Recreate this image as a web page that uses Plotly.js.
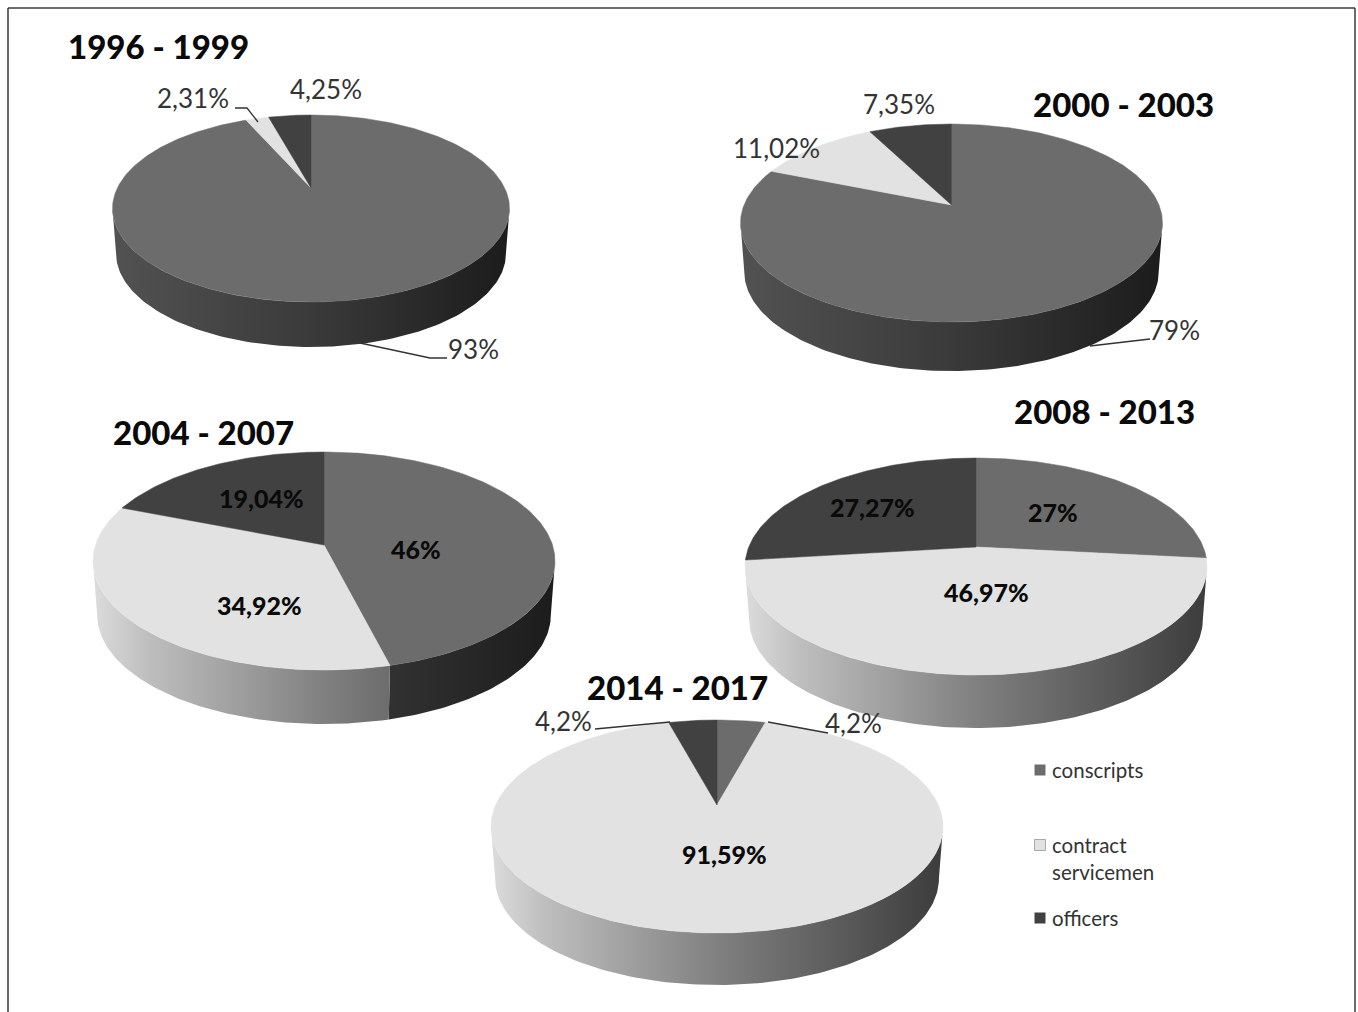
<!DOCTYPE html>
<html>
<head>
<meta charset="utf-8">
<script src="https://cdn.plot.ly/plotly-3.0.1.min.js"></script>
<style>html,body{margin:0;padding:0;background:#fff}#chart{width:1358px;height:1012px}</style>
</head>
<body>
<div id="chart"></div>
<script>
// ---- data ----
const periods = ['1996 - 1999', '2000 - 2003', '2004 - 2007', '2008 - 2013', '2014 - 2017'];
const seriesNames = ['conscripts', 'contract servicemen', 'officers'];
const conscripts = [93, 79, 46, 27, 4.2];
const contractServicemen = [2.31, 11.02, 34.92, 46.97, 91.59];
const officers = [4.25, 7.35, 19.04, 27.27, 4.2];

// ---- styling ----
const topColors = ['#6c6c6c', '#e2e2e2', '#414141'];
const wallScales = [
  [[0, '#525252'], [0.5, '#3a3a3a'], [1, '#1c1c1c']],
  [[0, '#dcdcdc'], [0.12, '#bebebe'], [0.5, '#808080'], [1, '#3c3c3c']],
  [[0, '#303030'], [1, '#101010']]
];
const FONT = 'Lato, "Open Sans", sans-serif';

// ---- placement of each pie on the pixel-like hidden axes ----
const pieX = [311, 951.5, 324, 976, 717];
const pieHalfWidth = [198.5, 211, 231, 231, 226];
const pieApexY = [188, 205, 545, 547, 805];
const pieTopY = [115, 124, 452, 458, 720];
const pieBottomY = [302, 322, 670, 675, 933];
const pieWallBottomY = [347, 371, 724, 728, 985];
const titlePos = [[158, 45.5], [1123, 103.5], [203, 431.5], [1104, 410.5], [677, 686.5]];
const labelPos = [
  [[473, 349], [193, 98], [326, 89]],
  [[1174, 330], [776, 148], [899, 104]],
  [[416, 549], [259, 605], [261, 498]],
  [[1053, 512], [986, 592], [872, 507]],
  [[853, 723], [724, 854], [563, 721]]
];
const labelBold = [
  [false, false, false],
  [false, false, false],
  [true, true, true],
  [true, true, true],
  [false, true, false]
];
const leaders = [
  [[[360, 343], [430, 358], [447, 358]], [[235, 108], [247, 108], [258, 122]]],
  [[[1090, 346], [1150, 339]]],
  [],
  [],
  [[[595, 729], [670, 722]], [[768, 722], [828, 733]]]
];

const traces = [];
const annotations = [];

function makeProjector(i) {
  const up = pieApexY[i] - pieTopY[i];
  const down = pieBottomY[i] - pieApexY[i];
  const a = (down - up) / (down + up);
  const h = up * (1 + a);
  const rx = pieHalfWidth[i] * Math.sqrt(1 - a * a);
  return {
    a,
    point(theta) {
      const u = Math.sin(theta), v = Math.cos(theta), w = 1 + a * v;
      return [pieX[i] + rx * u / w, pieApexY[i] - h * v / w];
    }
  };
}

function addPie(i) {
  const vals = [conscripts[i], contractServicemen[i], officers[i]];
  const total = vals.reduce((s, d) => s + d, 0);
  const proj = makeProjector(i);
  const depth = pieWallBottomY[i] - pieBottomY[i];
  const thetaR = Math.acos(-proj.a);
  const thetaL = 2 * Math.PI - thetaR;
  const shrink = 0.982;
  let start = 0;
  const walls = [], tops = [];
  vals.forEach((val, s) => {
    const end = start + val / total * 2 * Math.PI;
    // visible side wall of this slice
    const a0 = Math.max(start, thetaR), a1 = Math.min(end, thetaL);
    if (a1 > a0) {
      const n = Math.max(4, Math.ceil((a1 - a0) * 50));
      const xs = [], ys = [];
      for (let k = 0; k <= n; k++) {
        const p = proj.point(a0 + (a1 - a0) * k / n);
        xs.push(p[0]); ys.push(p[1]);
      }
      for (let k = n; k >= 0; k--) {
        const p = proj.point(a0 + (a1 - a0) * k / n);
        xs.push(pieX[i] + (p[0] - pieX[i]) * shrink); ys.push(p[1] + depth);
      }
      xs.push(xs[0]); ys.push(ys[0]);
      walls.push({
        type: 'scatter', mode: 'lines', x: xs, y: ys, fill: 'toself',
        line: {width: 0}, hoverinfo: 'skip', showlegend: false,
        fillgradient: {
          type: 'horizontal',
          start: pieX[i] - pieHalfWidth[i],
          stop: pieX[i] + pieHalfWidth[i],
          colorscale: wallScales[s]
        }
      });
    }
    // top face of this slice
    const m = Math.max(6, Math.ceil((end - start) * 60));
    const tx = [pieX[i]], ty = [pieApexY[i]];
    for (let k = 0; k <= m; k++) {
      const p = proj.point(start + (end - start) * k / m);
      tx.push(p[0]); ty.push(p[1]);
    }
    tx.push(pieX[i]); ty.push(pieApexY[i]);
    tops.push({
      type: 'scatter', mode: 'lines', x: tx, y: ty, fill: 'toself',
      fillcolor: topColors[s], line: {width: 0.5, color: topColors[s]},
      name: seriesNames[s] + ' ' + periods[i], hoverinfo: 'skip', showlegend: false
    });
    // data label
    const txt = String(val).replace('.', ',') + '%';
    const bold = labelBold[i][s];
    annotations.push({
      xref: 'x', yref: 'y', x: labelPos[i][s][0], y: labelPos[i][s][1],
      text: txt, showarrow: false,
      font: {family: FONT, size: bold ? 25 : 26, weight: bold ? 900 : 400, color: bold ? '#0a0a0a' : '#333333'}
    });
    start = end;
  });
  traces.push(...walls, ...tops);
  // leader lines
  leaders[i].forEach(seg => {
    traces.push({
      type: 'scatter', mode: 'lines',
      x: seg.map(p => p[0]), y: seg.map(p => p[1]),
      line: {width: 1.3, color: '#333333'}, hoverinfo: 'skip', showlegend: false
    });
  });
  // period title
  annotations.push({
    xref: 'x', yref: 'y', x: titlePos[i][0], y: titlePos[i][1],
    text: periods[i], showarrow: false,
    font: {family: FONT, size: 33, weight: 900, color: '#0a0a0a'}
  });
}

periods.forEach((_, i) => addPie(i));

// ---- legend ----
const legendMarkerX = 1040;
const legendTextX = 1050;
const legendRows = [770, 845, 918];
const legendLines = [['conscripts', 769.5], ['contract', 844.5], ['servicemen', 871.5], ['officers', 917.5]];
seriesNames.forEach((name, s) => {
  traces.push({
    type: 'scatter', mode: 'markers', x: [legendMarkerX], y: [legendRows[s]], name,
    marker: {symbol: 'square', size: 11, color: topColors[s],
      line: {width: s === 1 ? 1 : 0, color: '#a8a8a8'}},
    hoverinfo: 'skip', showlegend: false
  });
});
legendLines.forEach(([t, y]) => {
  annotations.push({
    xref: 'x', yref: 'y', x: legendTextX, y, xanchor: 'left', text: t, showarrow: false,
    font: {family: FONT, size: 20.5, color: '#333333'}
  });
});

// ---- frame: left, top and right edges only ----
const frame = [[8, 1012, 8, 8], [8, 8, 1355, 8], [1355, 8, 1355, 1012]].map(f => ({
  type: 'line', xref: 'x', yref: 'y', x0: f[0], y0: f[1], x1: f[2], y1: f[3],
  line: {color: '#3a3a3a', width: 1.5}
}));

const layout = {
  width: 1358, height: 1012, margin: {l: 0, r: 0, t: 0, b: 0},
  paper_bgcolor: '#ffffff', plot_bgcolor: '#ffffff', showlegend: false,
  xaxis: {range: [0, 1358], visible: false, fixedrange: true},
  yaxis: {range: [1012, 0], visible: false, fixedrange: true},
  shapes: frame, annotations
};
Plotly.newPlot('chart', traces, layout, {displayModeBar: false, staticPlot: true});
</script>
</body>
</html>
